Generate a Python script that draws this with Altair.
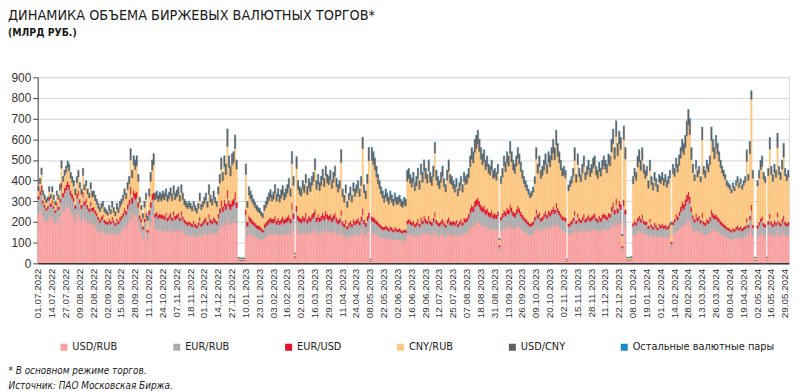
import json
import altair as alt
import pandas as pd

ticks = ["01.07.2022", "14.07.2022", "27.07.2022", "09.08.2022", "22.08.2022", "02.09.2022",
         "15.09.2022", "28.09.2022", "11.10.2022", "24.10.2022", "07.11.2022", "18.11.2022",
         "01.12.2022", "14.12.2022", "27.12.2022", "10.01.2023", "23.01.2023", "03.02.2023",
         "16.02.2023", "02.03.2023", "16.03.2023", "29.03.2023", "11.04.2023", "24.04.2023",
         "08.05.2023", "22.05.2023", "02.06.2023", "16.06.2023", "29.06.2023", "12.07.2023",
         "25.07.2023", "07.08.2023", "18.08.2023", "31.08.2023", "13.09.2023", "26.09.2023",
         "09.10.2023", "20.10.2023", "02.11.2023", "15.11.2023", "28.11.2023", "11.12.2023",
         "22.12.2023", "08.01.2024", "19.01.2024", "01.02.2024", "14.02.2024", "28.02.2024",
         "13.03.2024", "26.03.2024", "08.04.2024", "19.04.2024", "02.05.2024", "16.05.2024",
         "29.05.2024"]

usd_rub = [
    240,250,270,230,210,200,210,240,220,
    230,210,190,220,200,230,280,250,260,
    270,280,270,250,240,230,200,240,250,
    220,200,240,210,220,200,190,210,190,
    190,180,170,155,145,155,160,145,140,
    140,150,140,155,145,135,150,140,150,
    160,170,185,175,195,210,250,215,240,
    230,235,200,160,150,120,150,165,110,
    175,200,225,230,165,170,160,165,160,
    160,155,165,150,158,165,150,170,155,
    160,165,150,170,155,145,140,135,140,
    135,130,140,130,125,135,150,130,138,
    145,150,135,160,145,140,150,145,138,
    160,175,195,180,195,185,220,195,185,
    195,200,215,190,12,11,10,11,10,
    170,130,150,145,140,135,130,125,120,
    120,115,110,125,130,135,140,145,140,
    140,150,135,145,135,140,148,138,142,
    145,150,140,190,155,20,180,150,145,
    140,150,145,160,140,150,145,155,160,
    170,145,155,145,150,160,150,165,155,
    150,155,145,152,160,145,138,142,170,
    135,128,140,120,130,138,128,142,135,
    140,145,135,150,170,140,130,150,160,
    8,150,148,145,140,135,130,125,120,
    120,125,120,115,122,118,112,120,115,
    112,115,110,108,112,110,140,145,140,
    135,140,130,135,145,130,150,140,155,
    145,140,155,140,135,148,165,142,135,
    132,140,145,135,128,142,150,138,136,
    140,135,142,130,138,145,135,150,145,
    150,160,175,185,180,195,200,205,195,
    185,180,183,172,178,168,165,172,160,
    165,160,170,60,155,165,175,168,180,
    175,190,180,170,165,175,185,178,168,
    162,155,150,145,140,135,138,142,155,
    180,165,172,155,160,168,175,165,178,
    172,180,188,180,200,185,176,168,160,
    160,155,8,135,140,145,155,175,145,
    170,155,150,158,168,152,158,165,155,
    160,165,170,158,152,162,155,165,170,
    165,160,170,168,185,195,178,205,182,
    200,190,55,200,175,12,11,12,12,
    135,142,138,150,158,148,160,145,140,
    142,128,150,133,126,138,130,124,136,
    128,133,126,130,124,128,136,70,140,
    150,160,155,165,175,185,180,190,205,
    210,200,178,160,150,165,155,160,148,
    162,140,136,145,142,152,170,162,158,
    162,155,150,143,138,134,130,126,123,
    120,116,122,118,125,130,122,128,120,
    125,128,150,130,155,185,130,12,11,
    125,134,145,150,132,128,12,138,158,
    137,130,140,135,162,138,132,144,153,
    137,132,135,
]

eur_rub = [
    70,80,80,60,60,55,55,65,55,
    60,55,55,60,60,65,85,70,80,
    85,90,85,80,75,70,65,75,80,
    70,65,80,70,72,65,60,68,62,
    65,60,58,55,52,55,58,52,50,
    48,52,50,55,50,47,52,50,55,
    55,58,62,60,68,72,85,75,82,
    80,82,70,55,50,45,50,58,40,
    60,70,80,82,58,60,56,58,57,
    58,56,60,55,57,60,56,62,57,
    58,60,55,62,56,52,50,48,50,
    48,46,50,47,45,48,55,48,50,
    52,55,50,58,53,50,55,52,50,
    60,68,80,70,82,75,95,80,75,
    80,82,95,78,5,5,4,5,4,
    65,50,58,55,52,50,48,46,45,
    45,42,40,47,50,52,55,57,55,
    55,58,53,56,52,55,57,53,55,
    57,60,55,72,62,10,70,58,56,
    55,58,56,60,54,58,56,60,62,
    65,56,60,55,58,62,58,63,60,
    58,60,56,59,62,56,52,55,62,
    50,47,52,45,48,51,47,53,50,
    52,54,50,55,65,52,48,56,60,
    3,55,54,52,50,48,46,44,42,
    42,44,42,40,43,41,39,42,40,
    40,41,39,38,40,39,50,52,50,
    48,50,46,48,52,47,54,50,56,
    52,50,55,50,48,53,60,51,48,
    47,50,52,48,45,51,54,49,48,
    50,48,51,46,49,52,48,53,52,
    55,60,68,72,70,78,80,82,78,
    72,68,70,64,66,60,58,62,56,
    58,55,60,20,52,57,62,60,65,
    63,70,66,60,58,63,68,65,60,
    55,52,50,47,45,42,44,46,52,
    60,52,56,48,50,54,58,52,58,
    56,60,64,60,68,62,58,54,50,
    50,48,3,42,44,46,50,58,46,
    54,48,45,50,54,46,49,52,48,
    50,52,54,48,46,51,48,52,54,
    52,50,55,54,65,72,60,78,62,
    75,70,20,78,62,5,5,5,5,
    45,48,46,52,55,50,56,48,46,
    46,40,50,42,38,44,41,37,43,
    42,44,41,43,40,42,45,25,46,
    50,60,55,65,75,85,80,90,95,
    100,90,70,55,48,58,50,54,46,
    60,48,46,52,50,54,65,60,56,
    55,52,50,46,44,42,40,38,37,
    36,34,37,35,38,40,37,39,36,
    38,40,50,42,55,70,42,5,5,
    45,50,55,58,48,46,5,50,60,
    50,46,52,48,62,50,47,53,58,
    50,47,49,
]

eur_usd = [
    15,20,25,15,15,12,12,18,14,
    15,12,12,14,14,18,25,20,24,
    25,28,26,22,20,18,16,20,22,
    20,18,25,20,22,18,16,20,17,
    18,17,16,15,14,16,16,14,14,
    14,15,14,16,14,13,15,14,16,
    16,17,20,18,22,25,35,28,32,
    30,30,25,18,15,13,16,20,12,
    20,26,30,30,18,19,17,18,18,
    18,17,19,16,18,19,17,20,18,
    18,19,17,20,17,16,15,15,15,
    15,14,16,15,14,15,18,15,16,
    17,18,16,20,17,16,18,17,16,
    20,24,30,25,30,28,40,30,27,
    30,30,35,28,2,2,2,2,2,
    25,20,24,22,20,18,17,16,16,
    16,15,14,17,18,19,20,21,20,
    20,22,19,21,19,20,22,20,21,
    22,24,21,30,25,4,28,23,22,
    20,22,21,24,20,22,21,23,24,
    26,21,23,21,22,24,22,25,23,
    22,23,21,22,24,21,19,20,25,
    18,16,19,15,17,18,16,19,18,
    19,20,18,21,30,19,17,22,26,
    1,22,21,20,18,17,16,15,14,
    14,15,14,13,15,14,13,14,13,
    13,14,13,12,13,13,17,18,17,
    16,17,15,16,18,16,19,17,20,
    18,17,20,17,16,18,22,17,16,
    16,17,18,16,15,17,19,17,16,
    17,16,17,15,16,18,16,18,18,
    18,20,24,26,25,28,30,32,28,
    26,24,25,22,23,21,20,22,19,
    20,19,21,8,18,20,22,21,23,
    22,26,24,21,20,22,25,23,21,
    19,18,17,16,15,14,15,16,18,
    20,18,19,16,17,18,20,18,20,
    19,20,22,20,24,21,20,18,17,
    17,16,1,14,15,16,17,20,16,
    18,16,15,17,18,16,17,18,16,
    17,18,18,16,15,17,16,18,18,
    18,17,19,18,23,27,21,30,22,
    28,26,8,30,22,2,2,2,2,
    14,16,15,18,19,17,20,16,15,
    15,13,17,14,13,15,14,12,14,
    14,15,14,14,13,14,15,8,15,
    15,18,16,20,24,28,26,30,32,
    35,32,24,18,16,19,17,18,15,
    22,16,15,17,16,18,24,21,19,
    19,18,17,16,15,14,14,13,12,
    12,11,12,12,13,13,12,13,12,
    13,14,18,14,20,28,14,2,2,
    14,16,18,20,15,15,2,16,22,
    16,15,17,16,22,16,15,17,20,
    16,15,16,
]

cny_rub = [
    25,35,55,25,25,25,25,25,25,
    40,30,25,35,35,40,70,55,60,
    60,65,65,60,55,55,50,55,65,
    55,50,80,55,60,52,50,62,52,
    50,45,42,40,38,40,42,38,36,
    30,40,35,45,38,35,45,40,50,
    55,58,65,60,72,78,130,95,120,
    115,125,100,60,45,40,55,65,45,
    70,100,115,135,65,67,65,70,66,
    80,78,82,78,80,85,80,85,78,
    85,88,78,90,80,70,68,66,68,
    67,62,70,64,58,67,80,66,70,
    75,82,70,95,80,75,88,78,70,
    95,120,150,125,160,140,210,160,135,
    170,175,210,160,8,7,6,6,7,
    170,70,98,90,85,80,75,70,67,
    62,58,56,65,72,80,88,95,85,
    95,110,93,100,90,100,105,95,102,
    115,130,108,190,135,12,180,125,110,
    110,130,120,145,118,135,125,140,150,
    190,135,145,130,145,160,140,170,150,
    150,165,140,160,175,148,135,145,230,
    120,105,130,90,110,122,105,135,120,
    130,140,120,150,290,130,118,158,250,
    6,270,255,235,210,185,170,150,140,
    120,135,125,118,130,122,115,127,118,
    120,125,115,112,120,115,190,195,180,
    170,185,160,175,195,165,205,185,215,
    195,180,215,185,178,200,285,192,178,
    165,185,205,172,157,192,222,183,180,
    155,145,160,135,150,165,145,175,165,
    165,175,200,220,210,235,245,260,240,
    220,205,215,195,202,187,183,195,175,
    175,167,185,25,160,175,210,195,220,
    210,245,220,200,192,210,230,215,195,
    175,160,150,142,134,125,128,140,160,
    245,200,220,190,198,210,225,200,230,
    220,240,260,240,280,250,232,212,195,
    200,193,6,160,170,180,198,245,185,
    235,200,185,210,228,190,205,218,200,
    210,225,230,205,198,215,202,220,230,
    220,210,235,230,265,285,245,300,255,
    275,265,50,290,245,9,8,9,10,
    190,213,202,245,259,234,265,225,210,
    222,182,232,192,177,204,188,173,200,
    202,212,196,208,191,202,217,85,234,
    205,225,215,225,235,245,240,250,285,
    325,300,230,205,185,215,195,203,185,
    353,227,217,243,233,253,335,298,272,
    323,303,277,257,240,231,220,199,196,
    190,179,195,185,200,210,195,206,190,
    200,210,275,215,300,510,225,9,8,
    190,211,235,240,210,200,9,220,312,
    226,205,230,216,313,225,210,241,282,
    221,205,216,
]

usd_cny = [
    20,25,30,20,20,18,18,22,18,
    25,22,18,20,20,26,35,25,26,
    29,31,33,27,29,26,28,29,32,
    24,26,34,24,25,24,23,29,28,
    26,27,23,24,20,23,23,20,19,
    17,22,20,28,22,19,27,25,28,
    23,26,27,26,32,34,54,36,45,
    44,47,34,26,19,21,28,31,22,
    34,43,49,52,33,33,31,33,33,
    33,33,33,30,31,35,31,37,31,
    33,37,29,37,31,26,26,25,26,
    24,22,23,23,22,24,36,25,25,
    30,34,28,46,34,28,38,27,25,
    34,42,54,39,52,51,84,54,47,
    54,52,64,43,2,2,2,2,2,
    49,29,39,37,32,26,24,22,21,
    21,19,19,25,29,33,36,36,29,
    34,39,34,37,33,39,42,33,39,
    40,45,35,57,42,3,56,43,36,
    34,39,37,40,37,44,42,41,43,
    53,42,46,38,44,48,39,46,41,
    39,46,37,46,48,39,35,37,62,
    35,32,37,28,33,39,32,39,35,
    37,39,35,42,53,37,35,42,62,
    2,60,59,55,49,42,35,33,31,
    31,38,36,31,37,32,28,34,31,
    32,32,30,27,32,30,49,46,39,
    38,45,36,43,47,39,49,45,51,
    47,40,52,45,40,48,50,45,40,
    37,45,47,36,32,45,52,40,37,
    35,33,37,31,34,37,33,41,37,
    39,42,50,54,52,61,62,63,56,
    54,50,54,44,48,41,41,46,37,
    39,36,41,5,32,40,48,43,49,
    47,56,47,46,42,47,49,46,43,
    36,32,30,27,23,21,22,23,32,
    52,42,50,38,42,47,49,42,51,
    50,57,63,57,70,59,51,45,35,
    40,35,2,26,28,30,37,59,35,
    50,38,32,42,49,33,38,44,38,
    40,47,45,40,36,42,36,42,45,
    42,40,48,47,59,68,53,74,56,
    59,56,6,64,53,2,2,2,3,
    33,38,36,52,56,48,56,43,36,
    41,34,48,36,33,36,34,31,34,
    31,33,30,32,29,31,34,10,42,
    37,44,36,47,48,54,51,57,70,
    72,75,55,39,28,40,30,32,23,
    60,36,33,40,36,40,63,56,52,
    58,49,43,35,30,26,23,21,19,
    19,17,21,17,21,24,21,21,19,
    21,25,54,26,57,39,36,2,2,
    23,36,44,49,32,28,2,33,55,
    38,31,38,33,68,38,33,42,64,
    33,28,31,
]

other = [
    1,1,1,1,1,1,1,1,1,
    1,1,1,1,1,1,1,1,1,
    1,1,1,1,1,1,1,1,1,
    1,1,1,1,1,1,1,1,1,
    1,1,1,1,1,1,1,1,1,
    1,1,1,1,1,1,1,1,1,
    1,1,1,1,1,1,1,1,1,
    1,1,1,1,1,1,1,1,1,
    1,1,1,1,1,1,1,1,1,
    1,1,1,1,1,1,1,1,1,
    1,1,1,1,1,1,1,1,1,
    1,1,1,1,1,1,1,1,1,
    1,1,1,1,1,1,1,1,1,
    1,1,1,1,1,1,1,1,1,
    1,1,1,1,0,0,0,0,0,
    2,2,2,2,2,2,2,2,2,
    2,2,2,2,2,2,2,2,2,
    2,2,2,2,2,2,2,2,2,
    2,2,2,2,2,0,2,2,2,
    2,2,2,2,2,2,2,2,2,
    2,2,2,2,2,2,2,2,2,
    2,2,2,2,2,2,2,2,2,
    2,2,2,2,2,2,2,2,2,
    2,2,2,2,2,2,2,2,2,
    0,4,4,4,4,4,4,4,4,
    4,4,4,4,4,4,4,4,4,
    4,4,4,4,4,4,4,4,4,
    4,4,4,4,4,4,4,4,4,
    4,4,4,4,4,4,4,4,4,
    4,4,4,4,4,4,4,4,4,
    4,4,4,4,4,4,4,4,4,
    3,3,3,3,3,3,3,3,3,
    3,3,3,3,3,3,3,3,3,
    3,3,3,1,3,3,3,3,3,
    3,3,3,3,3,3,3,3,3,
    3,3,3,3,3,3,3,3,3,
    3,3,3,3,3,3,3,3,3,
    3,3,3,3,3,3,3,3,3,
    3,3,0,3,3,3,3,3,3,
    3,3,3,3,3,3,3,3,3,
    3,3,3,3,3,3,3,3,3,
    3,3,3,3,3,3,3,3,3,
    3,3,1,3,3,0,0,0,0,
    3,3,3,3,3,3,3,3,3,
    3,3,3,3,3,3,3,3,3,
    3,3,3,3,3,3,3,2,3,
    3,3,3,3,3,3,3,3,3,
    3,3,3,3,3,3,3,3,3,
    3,3,3,3,3,3,3,3,3,
    3,3,3,3,3,3,3,3,3,
    3,3,3,3,3,3,3,3,3,
    3,3,3,3,3,3,3,0,0,
    3,3,3,3,3,3,0,3,3,
    3,3,3,3,3,3,3,3,3,
    3,3,3,
]

series_names = ["USD/RUB", "EUR/RUB", "EUR/USD", "CNY/RUB", "USD/CNY", "Остальные валютные пары"]
series_colors = ["#F8A1A1", "#ADADAD", "#E3132B", "#FDC882", "#5D6468", "#1C8CC4"]
series_values = [usd_rub, eur_rub, eur_usd, cny_rub, usd_cny, other]

n_days = len(usd_rub)
for vals in series_values:
    assert len(vals) == n_days, len(vals)

rows = []
for k, (name, vals) in enumerate(zip(series_names, series_values)):
    for i, v in enumerate(vals):
        rows.append({"i": i, "s": name, "v": v, "o": k})
df = pd.DataFrame(rows)

NARROW = "Liberation Sans Narrow, DejaVu Sans Condensed, Arial Narrow, Roboto Condensed, Liberation Sans, Arial, sans-serif"
REG = "Liberation Sans, Arial, Roboto, sans-serif"

label_expr = json.dumps(ticks) + "[floor(datum.value / 9)]"
tick_idx = list(range(0, n_days, 9))

color_scale = alt.Scale(domain=series_names, range=series_colors)

chart = alt.Chart(df).mark_bar(strokeWidth=0.35).encode(
    x=alt.X("i:O",
            scale=alt.Scale(paddingInner=0, paddingOuter=0),
            axis=alt.Axis(values=tick_idx, labelExpr=label_expr, labelAngle=270,
                          labelFont=REG, labelFontSize=10, labelColor="#333333",
                          labelPadding=5, ticks=False, domainColor="#3a3a3a", domainWidth=1.5,
                          labelOverlap=False, zindex=1,
                          title=["* В основном режиме торгов.", "Источник: ПАО Московская Биржа."],
                          titleX=-30, titleY=103, titleAlign="left", titleBaseline="top",
                          titleAngle=0, titleFont=NARROW, titleFontSize=10,
                          titleFontStyle="italic", titleFontWeight="normal",
                          titleColor="#222222", titleLineHeight=15)),
    y=alt.Y("v:Q", stack="zero",
            scale=alt.Scale(domain=[0, 900], nice=False),
            axis=alt.Axis(values=list(range(0, 901, 100)), title=None,
                          labelFont=REG, labelFontSize=12, labelColor="#333333",
                          labelPadding=2, tickSize=5, tickColor="#444444",
                          domainColor="#444444", grid=True, gridColor="#d6d6d6")),
    color=alt.Color("s:N", scale=color_scale, sort=series_names,
                    legend=alt.Legend(orient="none", legendX=21, legendY=267,
                                      direction="horizontal", columns=6, title=None,
                                      symbolType="square", symbolSize=50, symbolStrokeWidth=0,
                                      labelFont=NARROW, labelFontSize=11, labelColor="#222222",
                                      columnPadding=54, labelOffset=3, labelLimit=300)),
    stroke=alt.Stroke("s:N", scale=color_scale, sort=series_names, legend=None),
    order=alt.Order("o:Q", sort="ascending"),
).properties(
    width=759,
    height=188,
    padding={"left": 30, "top": 68, "right": 3, "bottom": 128},
    autosize=alt.AutoSizeParams(type="none"),
    title=alt.TitleParams(text="ДИНАМИКА ОБЪЕМА БИРЖЕВЫХ ВАЛЮТНЫХ ТОРГОВ*",
                          subtitle="(МЛРД РУБ.)", anchor="start", frame="group",
                          dx=-30, offset=32, font=NARROW, fontSize=14.5,
                          fontWeight="normal", color="#1a1a1a",
                          subtitleFont=NARROW, subtitleFontSize=10.5,
                          subtitleFontWeight="bold", subtitleColor="#1a1a1a",
                          subtitlePadding=5),
).configure_view(stroke=None).configure(background="white")

chart.save("out.html", embed_options={"renderer": "svg", "actions": False})
